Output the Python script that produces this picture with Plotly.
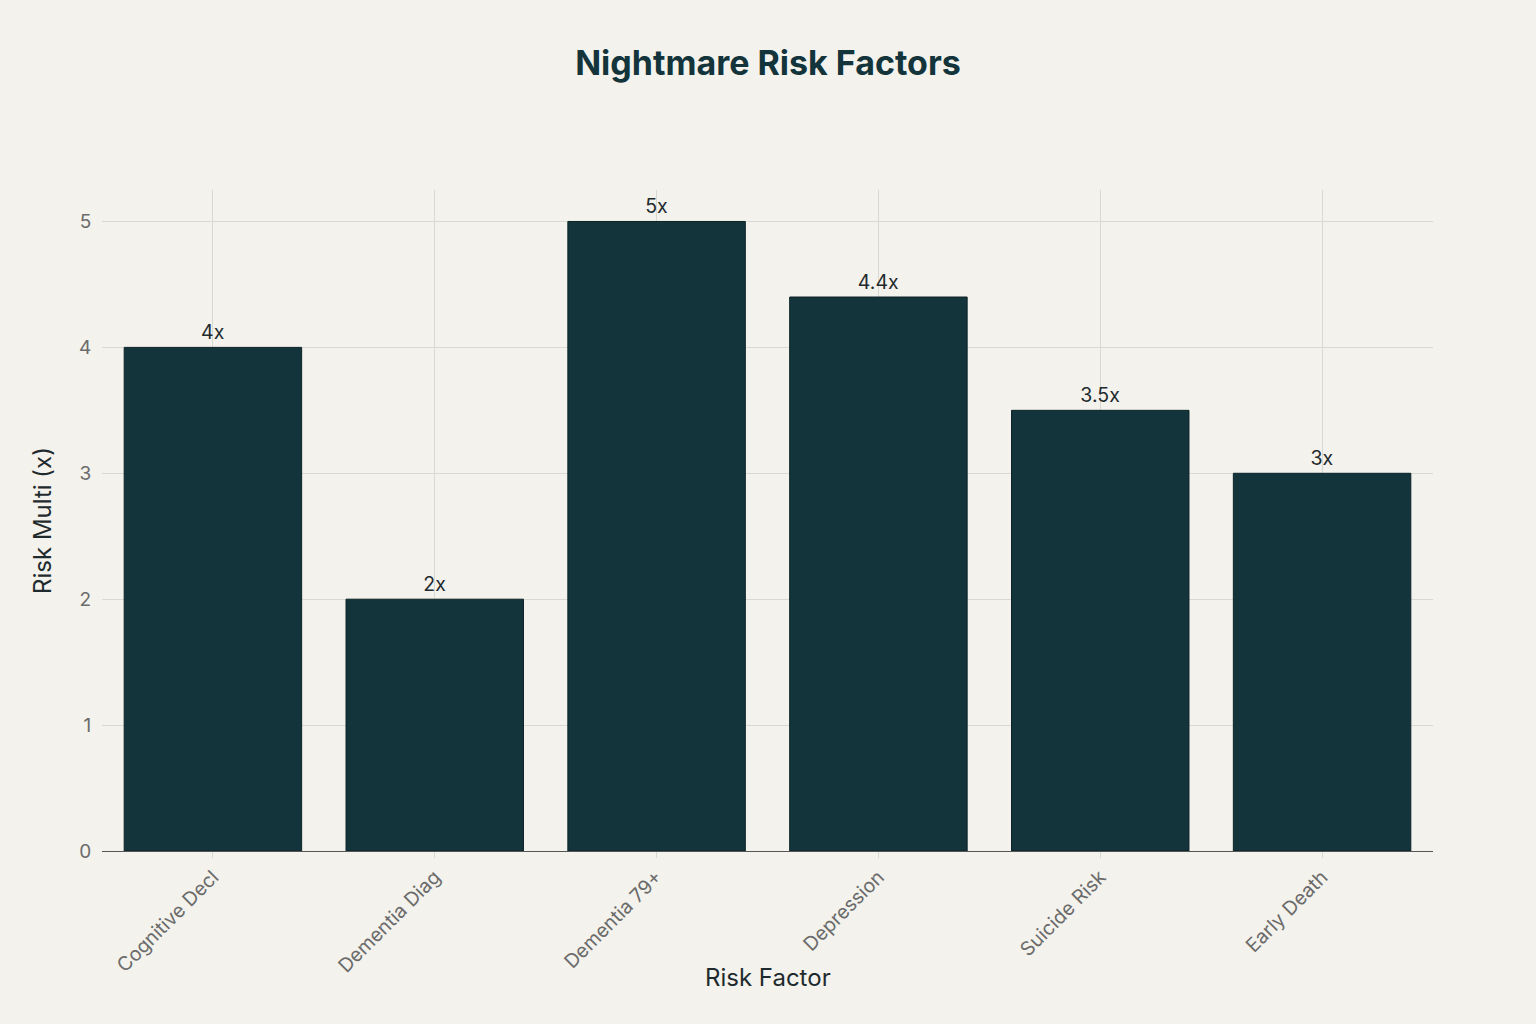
import plotly.graph_objects as go

categories = ["Cognitive Decl", "Dementia Diag", "Dementia 79+", "Depression", "Suicide Risk", "Early Death"]
values = [4, 2, 5, 4.4, 3.5, 3]
labels = ["4x", "2x", "5x", "4.4x", "3.5x", "3x"]

bg = "#F3F2EC"
fig = go.Figure(go.Bar(
    x=categories, y=values, text=labels, textposition="outside", cliponaxis=False,
    marker=dict(color="#13343B", line=dict(color="#0B2328", width=1)),
    textfont=dict(size=19.5, color="#1F2A2E"),
))
fig.update_layout(
    width=1536, height=1024,
    paper_bgcolor=bg, plot_bgcolor=bg,
    margin=dict(l=102, r=103, t=190, b=173),
    bargap=0.2,
    font=dict(family="Inter, Liberation Sans, Arial, sans-serif", color="#1F2A2E"),
    title=dict(text="<b>Nightmare Risk Factors</b>", x=0.5, xanchor="center", y=0.938, yanchor="middle",
               font=dict(size=34, color="#13343B")),
    showlegend=False,
    annotations=[dict(text="Risk Factor", xref="paper", yref="paper", x=0.5, y=-0.192,
                      xanchor="center", yanchor="middle", showarrow=False,
                      font=dict(size=24, color="#1F2A2E"))],
)
fig.update_xaxes(
    tickangle=-45, tickfont=dict(size=19.5, color="#6B6B6B"),
    showgrid=True, gridcolor="#D9D9D4", gridwidth=1,
    ticks="outside", ticklen=6, tickcolor="#D9D9D4",
    showline=True, linecolor="#555555", linewidth=1,
)
fig.update_yaxes(
    title=dict(text="Risk Multi (x)", font=dict(size=24, color="#1F2A2E"), standoff=20),
    range=[0, 5.25], dtick=1, tickfont=dict(size=19, color="#6B6B6B"),
    showgrid=True, gridcolor="#D9D9D4", gridwidth=1,
    ticks="outside", ticklen=6, tickcolor=bg,
    zeroline=False,
)
fig.write_html("out.html")
